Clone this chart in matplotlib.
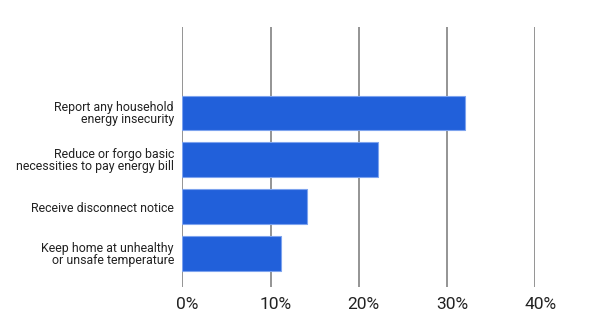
import matplotlib
matplotlib.use("Agg")
import matplotlib.pyplot as plt
import matplotlib.transforms as mtransforms
from matplotlib.ticker import FuncFormatter

categories = [
    "Report any household\nenergy insecurity",
    "Reduce or forgo basic\nnecessities to pay energy bill",
    "Receive disconnect notice",
    "Keep home at unhealthy\nor unsafe temperature",
]
values = [32.1, 22.2, 14.1, 11.2]
ticks = [0, 10, 20, 30, 40]

plt.rcParams["font.family"] = ["Roboto", "DejaVu Sans"]

fig = plt.figure(figsize=(6, 3.34), dpi=100)
ax = fig.add_axes([0.3038, 0.141, 0.892 - 0.3038, 0.919 - 0.141])

n = len(categories)
pos = [n - 1 - i for i in range(n)]
ax.barh(pos, values, height=0.74, color="#2160DA", edgecolor="#7DA3EE",
        linewidth=0.8, zorder=3)

ax.set_xlim(0, 40)
ax.set_ylim(-0.71, 4.83)
ax.set_xticks(ticks)
ax.xaxis.set_major_formatter(FuncFormatter(lambda v, p: f"{v:.0f}%"))
ax.grid(axis="x", color="#777777", linewidth=1.1, zorder=0)
ax.tick_params(axis="x", length=0, pad=7, labelsize=12.5, labelcolor="#222222")
ax.set_yticks(pos)
ax.set_yticklabels(categories, fontsize=8.9, color="#222222", linespacing=0.85)
ax.tick_params(axis="y", length=0, pad=6)
for s in ax.spines.values():
    s.set_visible(False)

# percent labels sit slightly to the right of their gridlines
shift = mtransforms.ScaledTranslation(5 / 100, 0, fig.dpi_scale_trans)
for lbl in ax.get_xticklabels():
    lbl.set_transform(lbl.get_transform() + shift)

fig.savefig("out.png", dpi=100)
